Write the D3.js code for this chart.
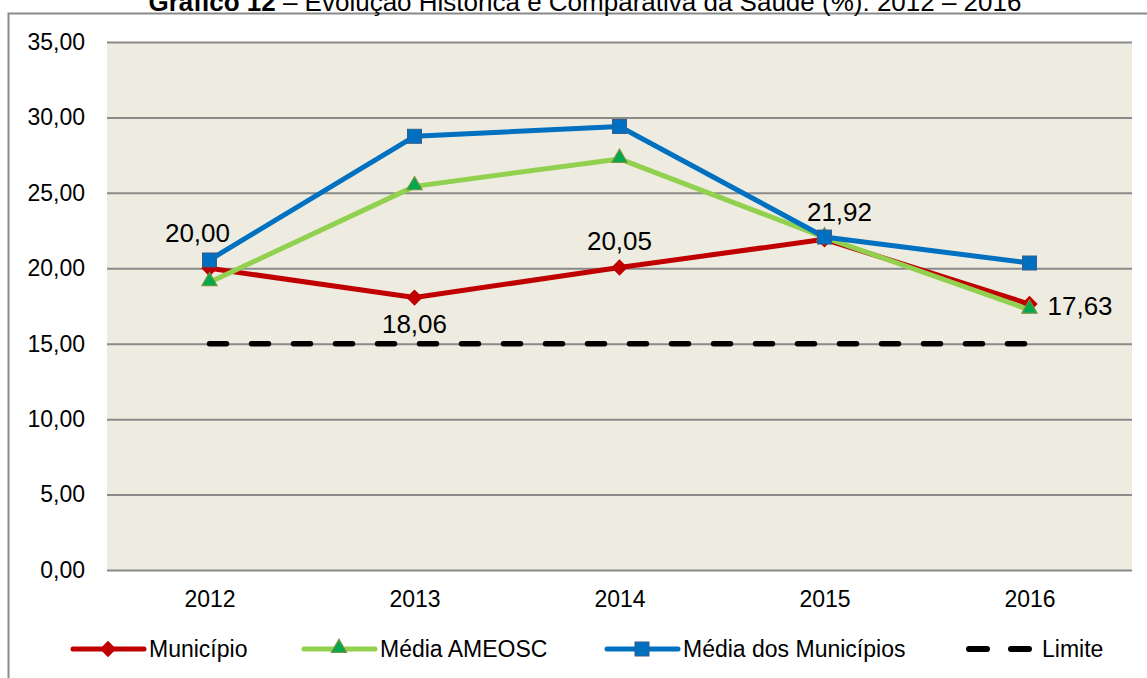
<!DOCTYPE html>
<html>
<head>
<meta charset="utf-8">
<script src="https://cdn.jsdelivr.net/npm/d3@7"></script>
<style>
  body { margin: 0; background: #fff; }
  svg text { font-family: "Liberation Sans", Arial, sans-serif; }
</style>
</head>
<body>
<div id="chart"></div>
<script>
// Chart data
var years = ['2012', '2013', '2014', '2015', '2016'];
var municipio = [20.00, 18.06, 20.05, 21.92, 17.63];
var mediaAmeosc = [19.07, 25.43, 27.25, 22.05, 17.25];
var mediaMunicipios = [20.55, 28.75, 29.40, 22.07, 20.35];
var limite = [15, 15, 15, 15, 15];
var yTicks = [0, 5, 10, 15, 20, 25, 30, 35];
var seriesNames = ['Município', 'Média AMEOSC', 'Média dos Municípios', 'Limite'];

const W = 1147, H = 678;
const plot = { left: 107, right: 1132, top: 42, bottom: 570 };

let svg = d3.select('#chart').append('svg')
            .attr('width', W)
            .attr('height', H);

// outer frame (only left and top edges are visible in the crop)
svg.append('rect')
   .attr('x', 8.5).attr('y', 13.5)
   .attr('width', W + 20).attr('height', H + 20)
   .attr('fill', '#fff')
   .attr('stroke', '#8a8a8a')
   .attr('stroke-width', 2);

// title (partially cut off at the top, like the reference)
let title = svg.append('text')
   .attr('x', 585).attr('y', 11)
   .attr('text-anchor', 'middle')
   .attr('font-size', 26)
   .attr('fill', '#000');
title.append('tspan').attr('font-weight', 'bold').text('Gráfico 12');
title.append('tspan').text(' – Evolução Histórica e Comparativa da Saúde (%): 2012 – 2016');

let x = d3.scalePoint().domain(years)
          .range([plot.left, plot.right]).padding(0.5);
let y = d3.scaleLinear().domain([0, 35])
          .range([plot.bottom, plot.top]);

// plot background
svg.append('rect')
   .attr('x', plot.left).attr('y', plot.top)
   .attr('width', plot.right - plot.left)
   .attr('height', plot.bottom - plot.top)
   .attr('fill', '#EEECE1');

// y axis with gridlines
let yAxis = svg.append('g')
   .attr('transform', 'translate(' + plot.left + ',0)')
   .call(d3.axisLeft(y).tickValues(yTicks)
            .tickSize(-(plot.right - plot.left))
            .tickPadding(22)
            .tickFormat(d => d3.format('.2f')(d).replace('.', ',')));
yAxis.select('.domain').remove();
yAxis.selectAll('.tick line')
     .attr('stroke', '#8a8a8a').attr('stroke-width', 2);
yAxis.selectAll('.tick text')
     .attr('font-size', 23).attr('fill', '#000');

// x axis labels
let xAxis = svg.append('g')
   .attr('transform', 'translate(0,' + plot.bottom + ')')
   .call(d3.axisBottom(x).tickSize(0).tickPadding(21));
xAxis.select('.domain').remove();
xAxis.selectAll('.tick text')
     .attr('font-size', 23).attr('fill', '#000');

let line = d3.line()
   .x((d, i) => x(years[i]))
   .y(d => y(d));

// Limite (dashed)
svg.append('path')
   .attr('d', line(limite))
   .attr('fill', 'none')
   .attr('stroke', '#000')
   .attr('stroke-width', 5.5)
   .attr('stroke-linecap', 'round')
   .attr('stroke-dasharray', '17,25');

const diamond = d3.symbol().type(d3.symbolDiamond2).size(170);
const triangle = d3.symbol().type(d3.symbolTriangle).size(100);

function drawSeries(values, color) {
    svg.append('path')
       .attr('d', line(values))
       .attr('fill', 'none')
       .attr('stroke', color)
       .attr('stroke-width', 5)
       .attr('stroke-linejoin', 'round');
}

drawSeries(municipio, '#C00000');
svg.selectAll('.mk-mun').data(municipio).enter().append('path')
   .attr('d', diamond)
   .attr('transform', (d, i) => 'translate(' + x(years[i]) + ',' + y(d) + ')')
   .attr('fill', '#C00000');

drawSeries(mediaAmeosc, '#92D050');
svg.selectAll('.mk-ame').data(mediaAmeosc).enter().append('path')
   .attr('d', triangle)
   .attr('transform', (d, i) => 'translate(' + x(years[i]) + ',' + (y(d) - 1) + ')')
   .attr('fill', '#00A850')
   .attr('stroke', '#77933C')
   .attr('stroke-width', 1.2);

drawSeries(mediaMunicipios, '#0070C0');
svg.selectAll('.mk-med').data(mediaMunicipios).enter().append('rect')
   .attr('x', (d, i) => x(years[i]) - 7)
   .attr('y', d => y(d) - 7)
   .attr('width', 14).attr('height', 14)
   .attr('fill', '#0070C0')
   .attr('stroke', '#385D8A')
   .attr('stroke-width', 1);

// data labels for Município
const labelPos = [
    { dx: -12, dy: -26, anchor: 'middle' },
    { dx: 0, dy: 35, anchor: 'middle' },
    { dx: 0, dy: -18, anchor: 'middle' },
    { dx: 15, dy: -18, anchor: 'middle' },
    { dx: 18, dy: 11, anchor: 'start' }
];
svg.selectAll('.lbl').data(municipio).enter().append('text')
   .attr('x', (d, i) => x(years[i]) + labelPos[i].dx)
   .attr('y', (d, i) => y(d) + labelPos[i].dy)
   .attr('text-anchor', (d, i) => labelPos[i].anchor)
   .attr('font-size', 26)
   .attr('fill', '#000')
   .text(d => d3.format('.2f')(d).replace('.', ','));

// legend
const legendY = 649;
const legendX = [73, 304, 607, 966];
let legend = svg.append('g');
seriesNames.forEach((name, i) => {
    let g = legend.append('g').attr('transform', 'translate(' + legendX[i] + ',' + legendY + ')');
    if (i === 3) {
        g.append('line')
         .attr('x1', 3).attr('x2', 63).attr('y1', 0).attr('y2', 0)
         .attr('stroke', '#000').attr('stroke-width', 6)
         .attr('stroke-linecap', 'round')
         .attr('stroke-dasharray', '18,24');
    } else {
        const colors = ['#C00000', '#92D050', '#0070C0'];
        g.append('line')
         .attr('x1', 0).attr('x2', 71).attr('y1', 0).attr('y2', 0)
         .attr('stroke', colors[i]).attr('stroke-width', 5)
         .attr('stroke-linecap', 'round');
        if (i === 0) {
            g.append('path').attr('d', diamond).attr('transform', 'translate(35,0)').attr('fill', '#C00000');
        } else if (i === 1) {
            g.append('path').attr('d', triangle).attr('transform', 'translate(35,-1)')
             .attr('fill', '#00A850').attr('stroke', '#77933C').attr('stroke-width', 1.2);
        } else {
            g.append('rect').attr('x', 28).attr('y', -7).attr('width', 14).attr('height', 14)
             .attr('fill', '#0070C0').attr('stroke', '#385D8A');
        }
    }
    g.append('text')
     .attr('x', i === 3 ? 76 : 76).attr('y', 8)
     .attr('font-size', 23)
     .attr('fill', '#000')
     .text(name);
});
</script>
</body>
</html>
